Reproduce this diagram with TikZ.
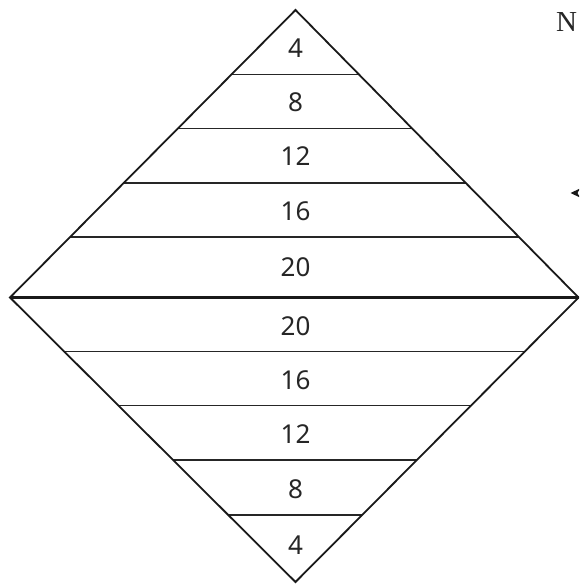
\documentclass[tikz,border=0pt]{standalone}
\usepackage{fontspec}
\setmainfont{Noto Sans}
\newfontfamily\serifN{Liberation Serif}
\begin{document}
\begin{tikzpicture}[x=1pt,y=-1pt,
  edge/.style={line width=1.8pt,black!90},
  band/.style={line width=1.5pt,black!85},
  midline/.style={line width=2.3pt,black!90},
  num/.style={font=\fontsize{26}{28}\selectfont,text=black!85,inner sep=0pt}]
\useasboundingbox (0,0) rectangle (579,584);
\clip (0,0) rectangle (579,584);
\coordinate (T) at (295.5,10);
\coordinate (L) at (10,297.5);
\coordinate (R) at (578.5,297.5);
\coordinate (B) at (295.5,582);
% bands (upper)
\foreach \y/\n in {74.5/u1,128.5/u2,183/u3,237/u4}{
  \path (T) -- (L) coordinate[pos={(\y-10)/287.5}] (\n l);
  \path (T) -- (R) coordinate[pos={(\y-10)/287.5}] (\n r);
  \draw[band] (\n l) -- (\n r);
}
\foreach \y/\n in {351.5/d1,405.5/d2,460/d3,515/d4}{
  \path (B) -- (L) coordinate[pos={(582-\y)/284.5}] (\n l);
  \path (B) -- (R) coordinate[pos={(582-\y)/284.5}] (\n r);
  \draw[band] (\n l) -- (\n r);
}
\draw[midline] (L) -- (R);
\draw[edge,line join=miter] (T) -- (R) -- (B) -- (L) -- cycle;
% numbers
\node[num] (n1) at (295.5,48) {4};
\node[num] (n2) at (295.5,102) {8};
\node[num] (n3) at (295.5,156) {12};
\node[num] (n4) at (295.5,211) {16};
\node[num] (n5) at (295.5,267) {20};
\node[num] (n6) at (295.5,326) {20};
\node[num] (n7) at (295.5,380) {16};
\node[num] (n8) at (295.5,434) {12};
\node[num] (n9) at (295.5,489) {8};
\node[num] (n10) at (295.5,545) {4};
% cut-off label and arrowhead at the right edge
\node[font=\serifN\fontsize{29}{30}\selectfont,anchor=base west,inner sep=0pt,text=black!85] (N) at (556,31) {N};
\fill[black!90] (570.5,193) -- (580,188.5) -- (577.5,193) -- (580,197.5) -- cycle;
\end{tikzpicture}
\end{document}
